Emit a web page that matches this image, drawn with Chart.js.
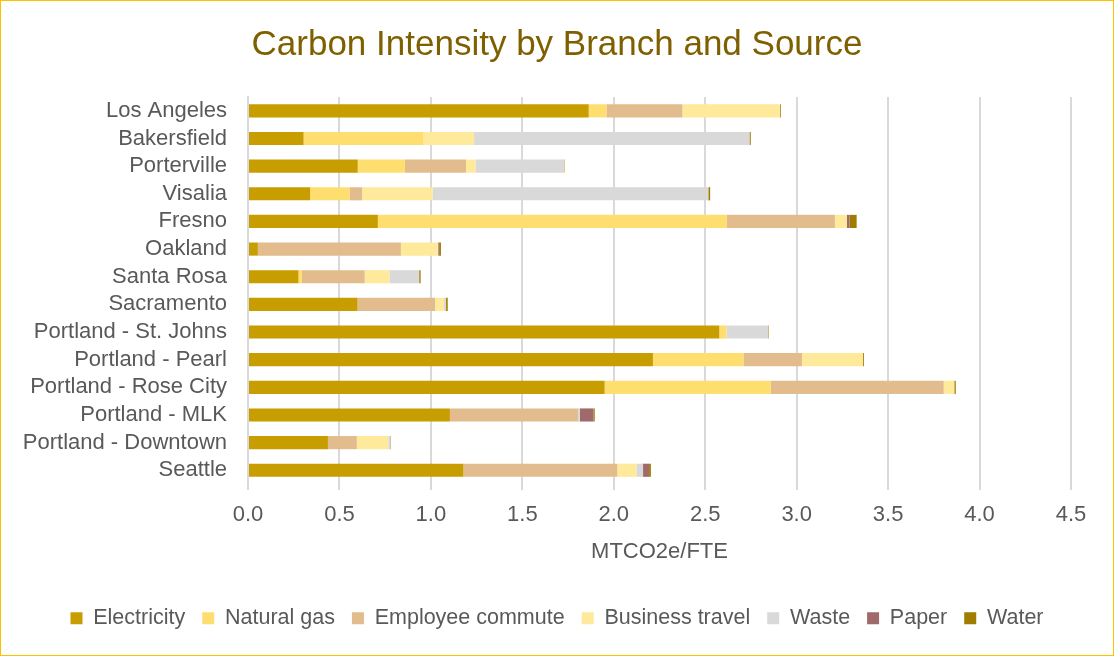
<!DOCTYPE html>
<html>
<head>
<meta charset="utf-8">
<script src="https://cdn.jsdelivr.net/npm/chart.js@4/dist/chart.umd.min.js"></script>
<style>
  html, body { margin: 0; padding: 0; background: #fff; }
  #wrap { position: relative; width: 1114px; height: 656px; box-sizing: border-box; border: 1px solid #FFC000; }
  canvas { display: block; }
</style>
</head>
<body>
<div id="wrap"><canvas id="c" width="1112" height="654"></canvas></div>
<script>
const branches = ["Los Angeles","Bakersfield","Porterville","Visalia","Fresno","Oakland","Santa Rosa","Sacramento","Portland - St. Johns","Portland - Pearl","Portland - Rose City","Portland - MLK","Portland - Downtown","Seattle"];
const sources = ["Electricity","Natural gas","Employee commute","Business travel","Waste","Paper","Water"];
const electricity    = [1.863, 0.304, 0.600, 0.340, 0.710, 0.054, 0.276, 0.599, 2.577, 2.214, 1.950, 1.104, 0.437, 1.178];
const naturalGas     = [0.097, 0.653, 0.258, 0.215, 1.908, 0.000, 0.019, 0.000, 0.039, 0.495, 0.909, 0.000, 0.000, 0.000];
const commute        = [0.415, 0.000, 0.334, 0.069, 0.591, 0.782, 0.343, 0.424, 0.000, 0.320, 0.945, 0.700, 0.158, 0.841];
const businessTravel = [0.533, 0.279, 0.052, 0.386, 0.065, 0.200, 0.135, 0.049, 0.000, 0.334, 0.058, 0.000, 0.172, 0.105];
const waste          = [0.000, 1.506, 0.483, 1.507, 0.000, 0.004, 0.163, 0.011, 0.226, 0.000, 0.000, 0.010, 0.012, 0.036];
const paper          = [0.000, 0.000, 0.000, 0.000, 0.015, 0.005, 0.000, 0.000, 0.000, 0.000, 0.000, 0.075, 0.000, 0.033];
const water          = [0.005, 0.007, 0.003, 0.010, 0.039, 0.010, 0.008, 0.009, 0.004, 0.005, 0.008, 0.007, 0.003, 0.010];
const xTicks = [0, 0.5, 1.0, 1.5, 2.0, 2.5, 3.0, 3.5, 4.0, 4.5];

const seriesValues = [electricity, naturalGas, commute, businessTravel, waste, paper, water];
const colors = ["#C89D00", "#FFDE70", "#E2BC8D", "#FFE99A", "#D9D9D9", "#A06A6A", "#A07C00"];

const FONT = "'Liberation Sans', 'Open Sans', sans-serif";
const grey = "#595959";

new Chart(document.getElementById('c'), {
  type: 'bar',
  data: {
    labels: branches,
    datasets: sources.map((s, i) => ({
      label: s,
      data: seriesValues[i],
      backgroundColor: colors[i],
      borderWidth: 0,
      categoryPercentage: 0.5,
      barPercentage: 0.95
    }))
  },
  options: {
    indexAxis: 'y',
    responsive: false,
    animation: false,
    layout: { padding: { left: 10, right: 10, top: 0, bottom: 16 } },
    plugins: {
      title: {
        display: true,
        text: 'Carbon Intensity by Branch and Source',
        color: '#7F6000',
        font: { family: FONT, size: 35, weight: 'normal' },
        padding: { top: 23, bottom: 31 }
      },
      legend: {
        position: 'bottom',
        labels: {
          color: grey,
          font: { family: FONT, size: 21.5 },
          boxWidth: 12, boxHeight: 12,
          padding: 17
        }
      },
      tooltip: { enabled: false }
    },
    scales: {
      x: {
        stacked: true,
        min: 0, max: 4.5,
        afterBuildTicks: (scale) => { scale.ticks = xTicks.map(v => ({ value: v })); },
        ticks: {
          color: grey,
          font: { family: FONT, size: 22 },
          padding: 12,
          callback: (v) => Number(v).toFixed(1)
        },
        grid: { color: '#D9D9D9', lineWidth: 2, tickLength: 6, drawTicks: true },
        border: { display: false },
        title: {
          display: true,
          text: 'MTCO2e/FTE',
          color: grey,
          font: { family: FONT, size: 22, lineHeight: 1.0 },
          padding: { top: 0, bottom: 28 }
        }
      },
      y: {
        stacked: true,
        afterFit: (scale) => { scale.width = 237; },
        ticks: {
          color: grey,
          font: { family: FONT, size: 22 },
          padding: 13,
          autoSkip: false
        },
        grid: { display: false },
        border: { display: true, color: '#D9D9D9', width: 2 }
      },
      yRight: {
        type: 'category',
        labels: branches,
        position: 'right',
        afterFit: (scale) => { scale.width = 32; },
        ticks: { display: false },
        grid: { display: false },
        border: { display: false }
      }
    }
  }
});
</script>
</body>
</html>
